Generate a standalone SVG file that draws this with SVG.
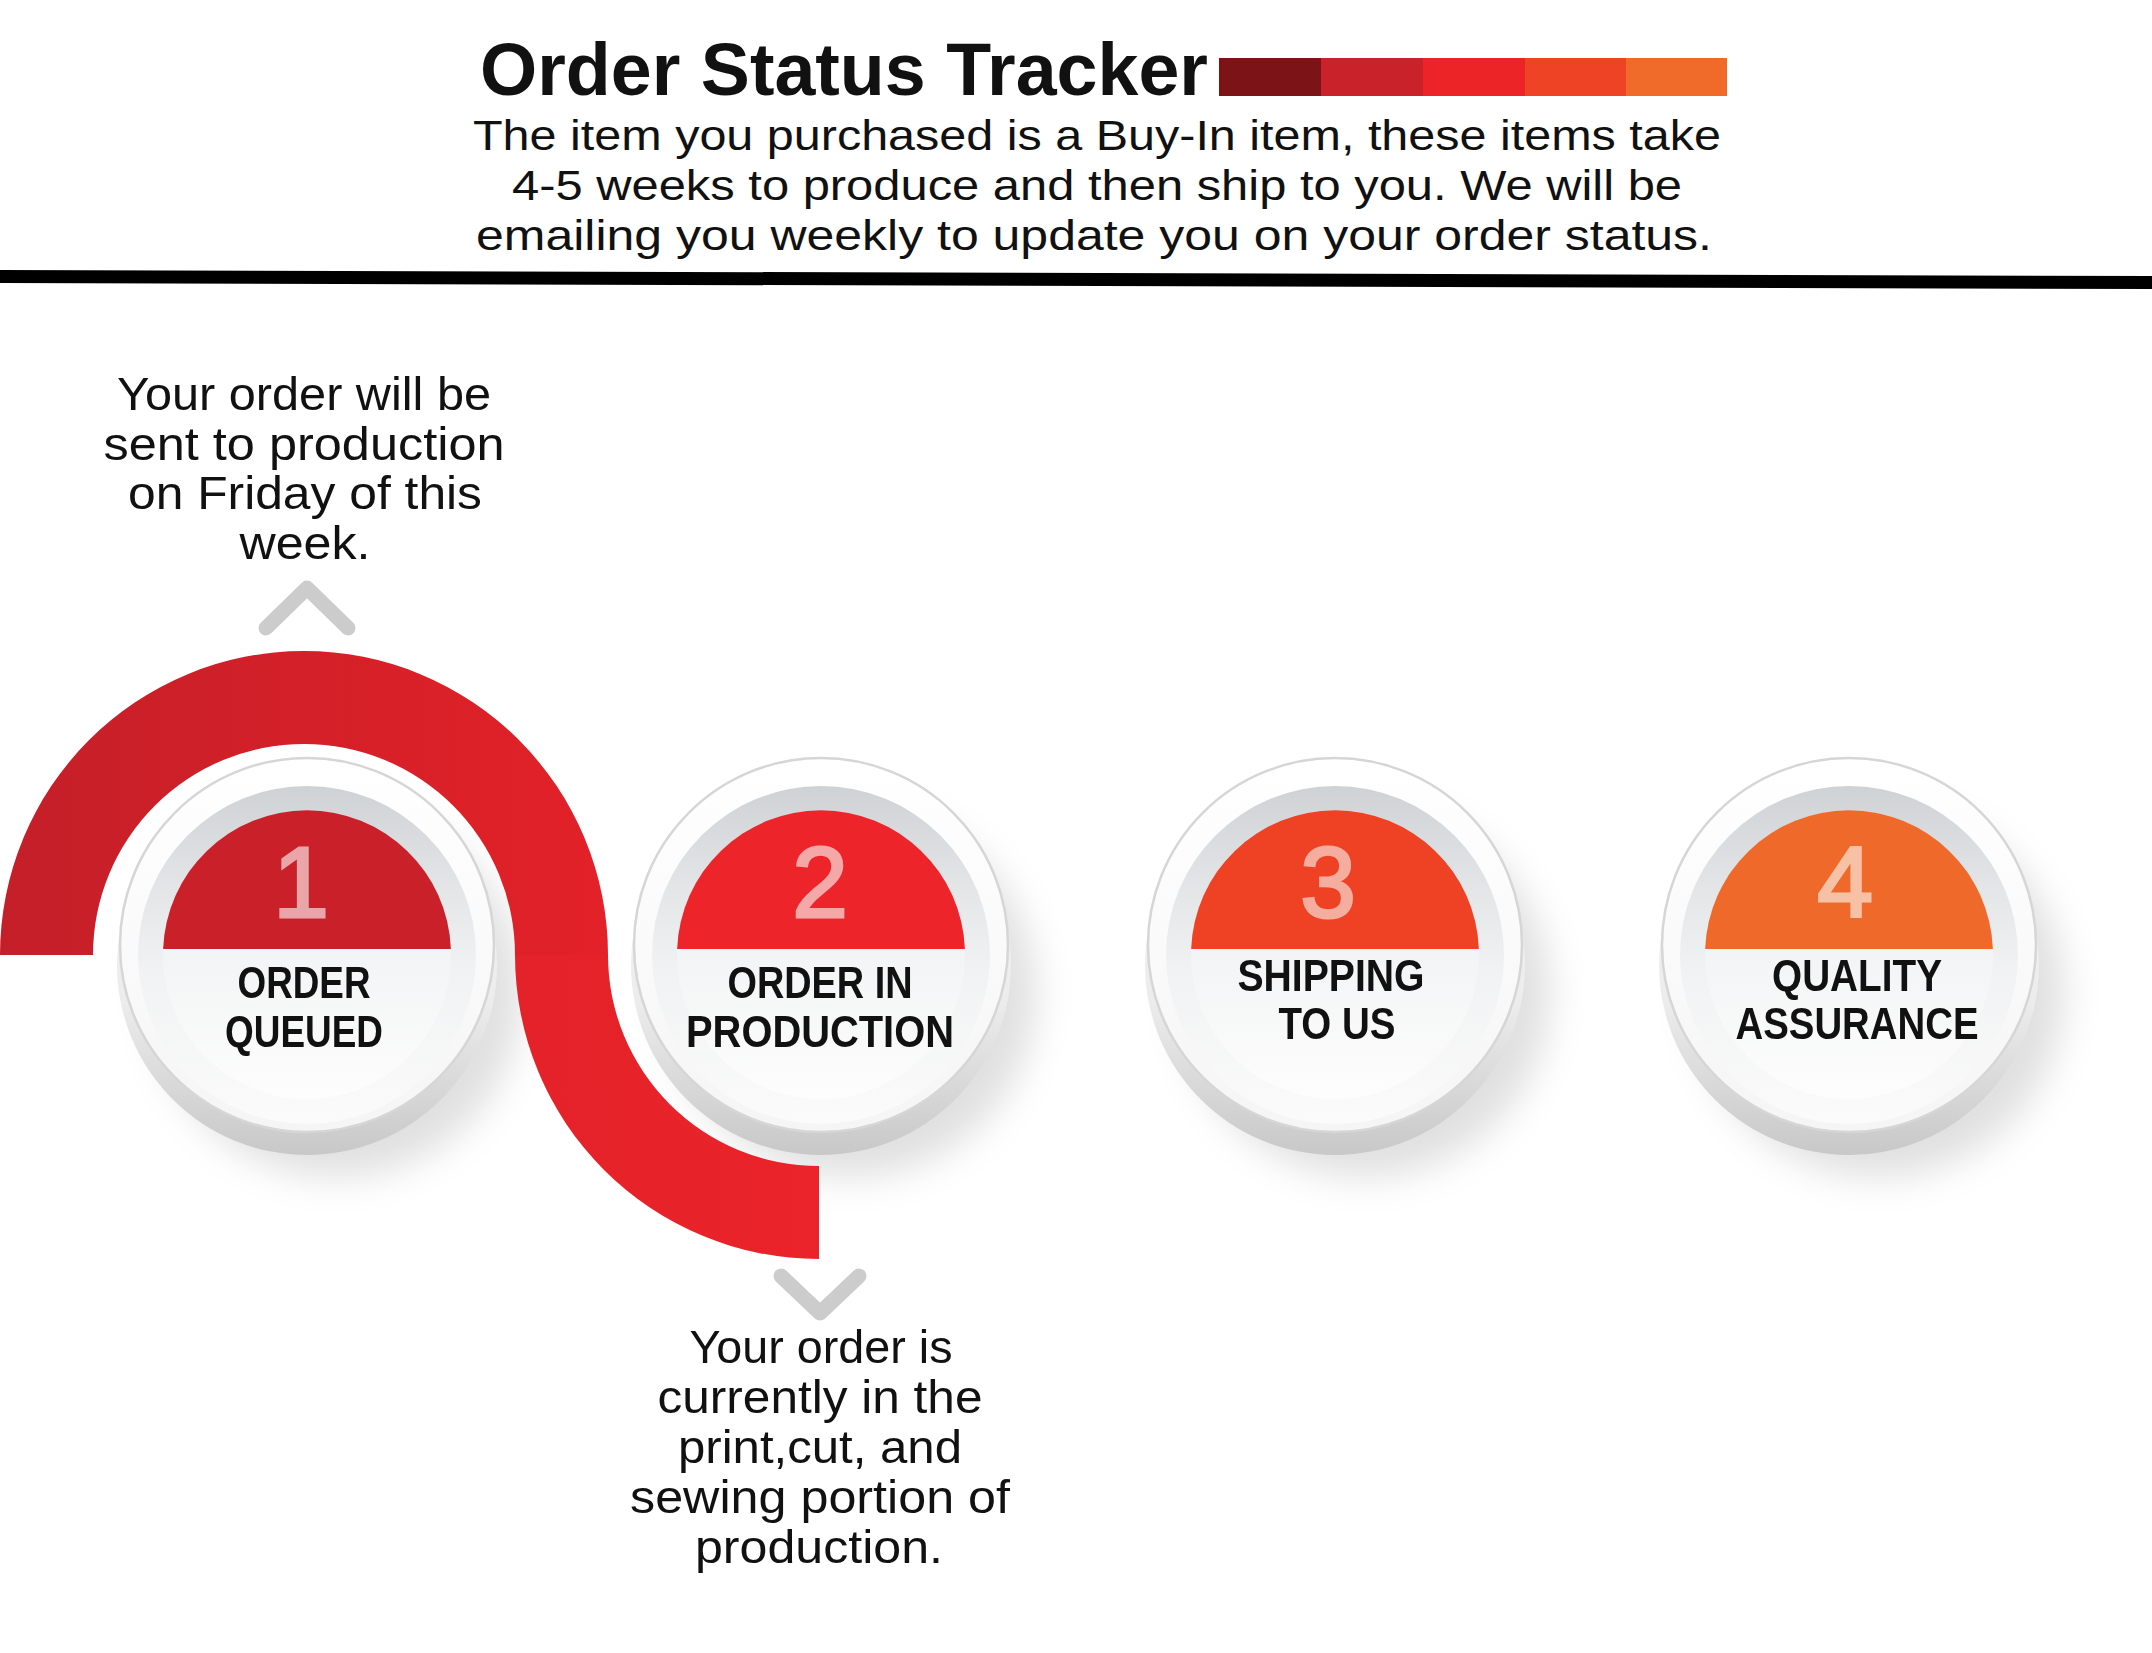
<svg xmlns="http://www.w3.org/2000/svg" xmlns:xlink="http://www.w3.org/1999/xlink" width="2152" height="1653" viewBox="0 0 2152 1653">
<style>
.txt{font-family:"Liberation Sans",Arial,sans-serif;fill:#111;}
.title{font-size:74px;font-weight:bold;}
.sub{font-size:43px;text-anchor:middle;}
.desc{font-size:46px;text-anchor:middle;}
.lbl{font-size:44px;font-weight:bold;text-anchor:middle;}
.num{font-family:"Liberation Sans",Arial,sans-serif;font-size:100px;text-anchor:middle;stroke-width:3;}
.chev{fill:none;stroke:#cccccc;stroke-width:15;stroke-linecap:round;stroke-linejoin:round;}
.shadow{fill:#000;opacity:0.12;}
</style>
<defs>
<filter id="blur" x="-50%" y="-50%" width="200%" height="200%"><feGaussianBlur stdDeviation="18"/></filter>
<linearGradient id="rimG" x1="0" y1="0" x2="0" y2="1"><stop offset="0" stop-color="#f6f6f6"/><stop offset="0.6" stop-color="#ececec"/><stop offset="1" stop-color="#c8c8c8"/></linearGradient>
<linearGradient id="faceG" x1="0" y1="0" x2="0" y2="1"><stop offset="0" stop-color="#ffffff"/><stop offset="1" stop-color="#f5f5f5"/></linearGradient>
<linearGradient id="btnG" x1="0" y1="0" x2="0" y2="1"><stop offset="0" stop-color="#cfd2d5"/><stop offset="0.3" stop-color="#e3e5e7"/><stop offset="0.55" stop-color="#f1f2f3"/><stop offset="1" stop-color="#fbfbfb"/></linearGradient>
<linearGradient id="innerG" x1="0" y1="0" x2="0" y2="1"><stop offset="0" stop-color="#e9ebed"/><stop offset="1" stop-color="#fdfdfd"/></linearGradient>
<linearGradient id="ribTop" gradientUnits="userSpaceOnUse" x1="0" y1="0" x2="608" y2="0"><stop offset="0" stop-color="#c41f29"/><stop offset="1" stop-color="#e32128"/></linearGradient>
<linearGradient id="ribBot" gradientUnits="userSpaceOnUse" x1="515" y1="0" x2="819" y2="0"><stop offset="0" stop-color="#e42229"/><stop offset="1" stop-color="#eb232a"/></linearGradient>
<g id="btn">
<circle cx="0" cy="10" r="190" fill="url(#rimG)"/>
<circle cx="0" cy="-10" r="187" fill="url(#faceG)" stroke="#d6d6d6" stroke-width="2.5"/>
<circle cx="0" cy="0" r="169" fill="url(#btnG)"/>
<circle cx="0" cy="0" r="144" fill="url(#innerG)"/>
</g>
</defs>
<rect width="2152" height="1653" fill="#ffffff"/>

<g id="header">
<text class="txt title" x="480" y="95" textLength="728" lengthAdjust="spacingAndGlyphs">Order Status Tracker</text>
<g id="colorbar">
<rect x="1219" y="58" width="102" height="38" fill="#7c1317"/>
<rect x="1321" y="58" width="102" height="38" fill="#c9222a"/>
<rect x="1423" y="58" width="102" height="38" fill="#ec2327"/>
<rect x="1525" y="58" width="101" height="38" fill="#ee4325"/>
<rect x="1626" y="58" width="101" height="38" fill="#f06b2a"/>
</g>
<text class="txt sub" x="1097" y="150" textLength="1248" lengthAdjust="spacingAndGlyphs">The item you purchased is a Buy-In item, these items take</text>
<text class="txt sub" x="1097" y="200" textLength="1170" lengthAdjust="spacingAndGlyphs">4-5 weeks to produce and then ship to you. We will be</text>
<text class="txt sub" x="1094" y="250" textLength="1236" lengthAdjust="spacingAndGlyphs">emailing you weekly to update you on your order status.</text>
<polygon points="0,270 2152,276 2152,289 0,283" fill="#000"/>
</g>

<g id="shadows" filter="url(#blur)">
<circle class="shadow" cx="337" cy="992" r="185"/>
<circle class="shadow" cx="851" cy="992" r="185"/>
<circle class="shadow" cx="1365" cy="992" r="185"/>
<circle class="shadow" cx="1879" cy="992" r="185"/>
</g>

<g id="connectors">
<path d="M 0 955 A 304 304 0 0 1 608 955 L 515 955 A 211 211 0 0 0 93 955 Z" fill="url(#ribTop)"/>
<path d="M 515 955 A 304 304 0 0 0 819 1259 L 819 1166 A 211 211 0 0 1 608 955 Z" fill="url(#ribBot)"/>
<polyline class="chev" points="266,628 307,588 348,628"/>
<polyline class="chev" points="781,1276 820,1313 859,1276"/>
</g>

<g id="node1">
<use xlink:href="#btn" href="#btn" transform="translate(307,955)"/>
<path d="M 163.1 949 A 144 144 0 0 1 450.9 949 Z" fill="#c9202a"/>
<text class="num" x="301" y="917" fill="#e9a5a9" stroke="#e9a5a9">1</text>
<text class="txt lbl" x="304" y="998" textLength="133" lengthAdjust="spacingAndGlyphs">ORDER</text>
<text class="txt lbl" x="304" y="1047" textLength="158" lengthAdjust="spacingAndGlyphs">QUEUED</text>
</g>

<g id="node2">
<use xlink:href="#btn" href="#btn" transform="translate(821,955)"/>
<path d="M 677.1 949 A 144 144 0 0 1 964.9 949 Z" fill="#ed2429"/>
<text class="num" x="820" y="917" fill="#f5a8a8" stroke="#f5a8a8">2</text>
<text class="txt lbl" x="820" y="998" textLength="185" lengthAdjust="spacingAndGlyphs">ORDER IN</text>
<text class="txt lbl" x="820" y="1047" textLength="268" lengthAdjust="spacingAndGlyphs">PRODUCTION</text>
</g>

<g id="node3">
<use xlink:href="#btn" href="#btn" transform="translate(1335,955)"/>
<path d="M 1191.1 949 A 144 144 0 0 1 1478.9 949 Z" fill="#ef4123"/>
<text class="num" x="1328" y="917" fill="#f5ad9f" stroke="#f5ad9f">3</text>
<text class="txt lbl" x="1331" y="991" textLength="187" lengthAdjust="spacingAndGlyphs">SHIPPING</text>
<text class="txt lbl" x="1337" y="1039" textLength="117" lengthAdjust="spacingAndGlyphs">TO US</text>
</g>

<g id="node4">
<use xlink:href="#btn" href="#btn" transform="translate(1849,955)"/>
<path d="M 1705.1 949 A 144 144 0 0 1 1992.9 949 Z" fill="#ef6a2a"/>
<text class="num" x="1845" y="917" fill="#f7c1a6" stroke="#f7c1a6">4</text>
<text class="txt lbl" x="1857" y="991" textLength="170" lengthAdjust="spacingAndGlyphs">QUALITY</text>
<text class="txt lbl" x="1857" y="1039" textLength="243" lengthAdjust="spacingAndGlyphs">ASSURANCE</text>
</g>

<g id="note1">
<text class="txt desc" x="304" y="410" textLength="374" lengthAdjust="spacingAndGlyphs">Your order will be</text>
<text class="txt desc" x="304" y="460" textLength="401" lengthAdjust="spacingAndGlyphs">sent to production</text>
<text class="txt desc" x="305" y="509" textLength="354" lengthAdjust="spacingAndGlyphs">on Friday of this</text>
<text class="txt desc" x="305" y="559" textLength="131" lengthAdjust="spacingAndGlyphs">week.</text>
</g>

<g id="note2">
<text class="txt desc" x="821" y="1363" textLength="263" lengthAdjust="spacingAndGlyphs">Your order is</text>
<text class="txt desc" x="820" y="1413" textLength="325" lengthAdjust="spacingAndGlyphs">currently in the</text>
<text class="txt desc" x="820" y="1463" textLength="284" lengthAdjust="spacingAndGlyphs">print,cut, and</text>
<text class="txt desc" x="820" y="1513" textLength="380" lengthAdjust="spacingAndGlyphs">sewing portion of</text>
<text class="txt desc" x="819" y="1563" textLength="248" lengthAdjust="spacingAndGlyphs">production.</text>
</g>
</svg>
